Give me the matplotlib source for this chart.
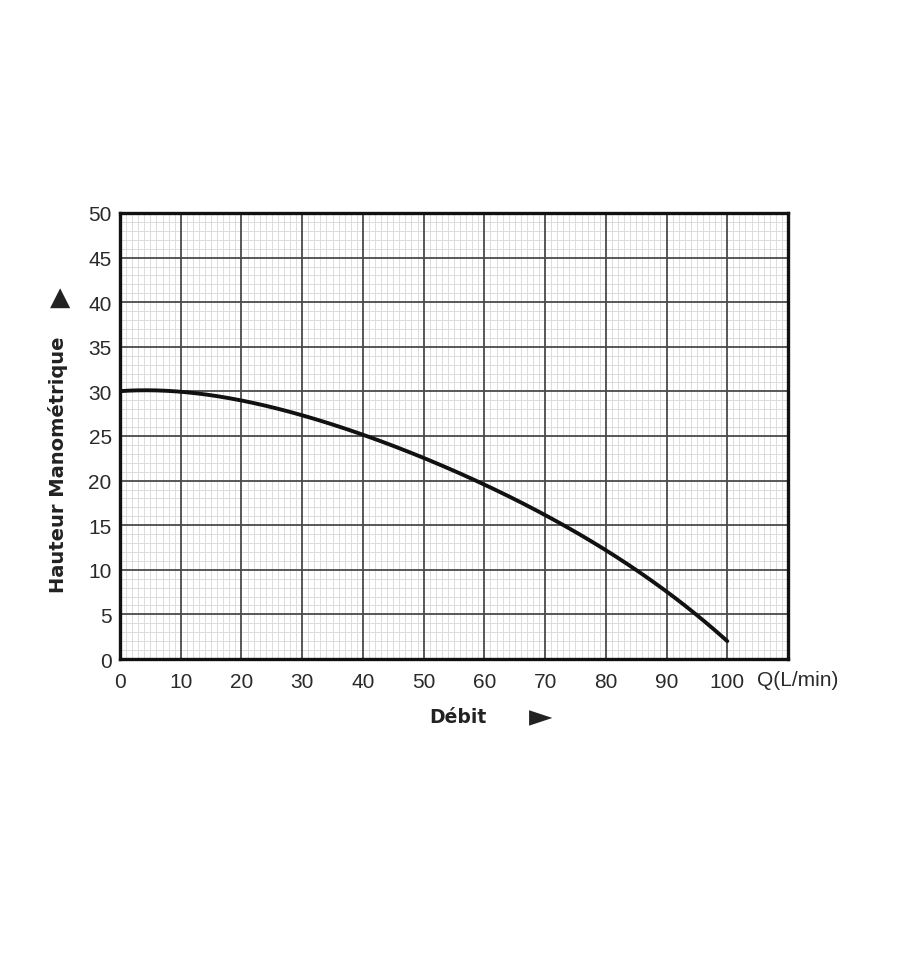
import matplotlib
matplotlib.use("Agg")
import matplotlib.pyplot as plt
import numpy as np

flow = [0, 5, 10, 20, 30, 40, 50, 60, 70, 80, 90, 100]
head = [30.0, 30.15, 30.0, 28.9, 27.4, 25.1, 22.5, 19.6, 16.2, 12.1, 7.6, 2.0]
x_ticks = [0, 10, 20, 30, 40, 50, 60, 70, 80, 90, 100]
y_ticks = [0, 5, 10, 15, 20, 25, 30, 35, 40, 45, 50]

plt.rcParams['font.family'] = ['Liberation Sans', 'DejaVu Sans']

fig = plt.figure(figsize=(9, 9.62), dpi=100)
ax = fig.add_axes([120/900, 1-660/962, (788-120)/900, (660-214)/962])

xmax, ymax = 110, 50
ax.set_xlim(0, xmax)
ax.set_ylim(0, ymax)

# grid: minor (every unit) below major lines
minor_x = [v for v in range(0, xmax + 1) if v % 10]
minor_y = [v for v in range(0, ymax + 1) if v % 5]
ax.vlines(minor_x, 0, ymax, color='#dcdcdc', lw=0.7, zorder=0.5)
ax.hlines(minor_y, 0, xmax, color='#dcdcdc', lw=0.7, zorder=0.5)
ax.vlines(x_ticks, 0, ymax, color='#4a4a4a', lw=1.3, zorder=1)
ax.hlines(y_ticks, 0, xmax, color='#4a4a4a', lw=1.3, zorder=1)

xs = np.linspace(0, 100, 300)
coef = np.polyfit(flow, head, 4)
ax.plot(xs, np.polyval(coef, xs), color='#111111', lw=2.8, solid_capstyle='round', zorder=5)

ax.set_xticks(x_ticks)
ax.set_yticks(y_ticks)
for s in ax.spines.values():
    s.set_linewidth(2.4)
    s.set_color('#111111')
    s.set_zorder(6)
ax.tick_params(which='both', length=0, labelsize=15, colors='#2a2a2a')
ax.tick_params(axis='x', pad=9)
ax.tick_params(axis='y', pad=6)

fig.text(757/900, 1-681/962, 'Q(L/min)', fontsize=15, color='#2a2a2a', ha='left', va='center')
fig.text(458/900, 1-718/962, 'Débit', fontsize=13.5, fontweight='bold', color='#222222',
         ha='center', va='center', family=['DejaVu Sans'])
fig.text(541/900, 1-718/962, '►', fontsize=22, color='#222222', ha='center', va='center',
         family=['DejaVu Sans'])
fig.text(58/900, 1-465/962, 'Hauteur Manométrique', fontsize=14, fontweight='bold', color='#222222',
         ha='center', va='center', rotation=90, family=['DejaVu Sans'])
fig.text(60/900, 1-298/962, '▲', fontsize=19, color='#222222', ha='center', va='center',
         family=['DejaVu Sans'])

fig.savefig('out.png', dpi=100, facecolor='white')
